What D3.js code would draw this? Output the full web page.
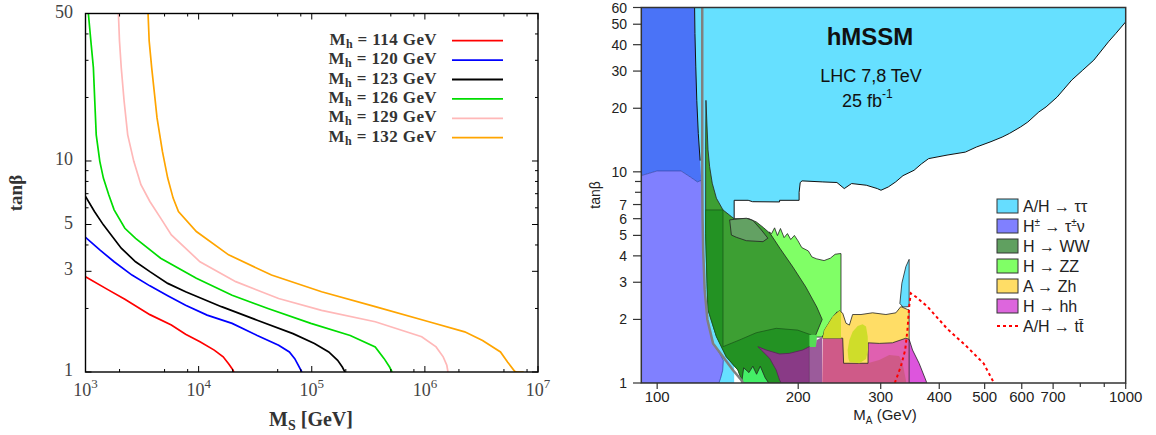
<!DOCTYPE html>
<html>
<head>
<meta charset="utf-8">
<title>Mh contours and hMSSM exclusion</title>
<style>
body { margin: 0; background: #fff; }
.serif { font-family: "Liberation Serif", "Times New Roman", serif; }
.sans { font-family: "Liberation Sans", Arial, sans-serif; }
</style>
</head>
<body>
<svg width="1156" height="435"></svg>
<script src="https://d3js.org/d3.v7.min.js"></script>
<script>

// ---------- left panel: tan(beta) vs M_S contours ----------
var msMajor = [1e3, 1e4, 1e5, 1e6, 1e7];
var msExp = ["3", "4", "5", "6", "7"];
var msMinor = [2e3, 5e3, 8e3, 2e4, 5e4, 8e4, 2e5, 5e5, 8e5, 2e6, 5e6, 8e6];
var tbLeftLabels = [1, 3, 5, 10, 50];
var tbLeftMinor = [2, 4, 6, 7, 8, 9, 20, 30, 40];

var mhLabels = ["114", "120", "123", "126", "129", "132"];
var mhColors = ["#ff0000", "#0000ff", "#000000", "#00dd00", "#ffb8b8", "#ffa500"];

var mh114 = [[1000,2.83],[1548,2.47],[2228,2.21],[3707,1.87],[5741,1.67],[7670,1.51],[10280,1.39],[13740,1.27],[16480,1.18],[18400,1.095],[19770,1.037],[20500,1.0]];
var mh120 = [[1000,4.35],[1338,3.79],[1791,3.33],[2576,2.88],[3707,2.56],[5333,2.30],[7670,2.07],[11880,1.86],[19770,1.70],[32960,1.49],[50970,1.34],[63400,1.245],[70750,1.157],[81800,1.0]];
var mh123 = [[1000,6.79],[1200,5.76],[1439,4.98],[2070,3.86],[2771,3.33],[3707,2.99],[5333,2.63],[7670,2.40],[15910,2.04],[32960,1.76],[68270,1.52],[105600,1.364],[141300,1.245],[169400,1.136],[186300,1.056],[196400,1.0]];
var mh126 = [[1060,50],[1115,37.1],[1174,27.7],[1208,19.2],[1244,13.3],[1338,9.96],[1439,8.3],[1605,6.92],[1791,5.87],[2228,4.80],[2771,4.30],[4617,3.46],[9550,2.78],[19770,2.31],[41000,2.0],[98200,1.70],[218800,1.49],[363900,1.315],[436500,1.157],[487400,1.056],[512600,1.0]];
var mh129 = [[1954,50],[1997,37.1],[2070,27.7],[2195,19.2],[2361,13.3],[2673,9.96],[3090,7.72],[3707,6.43],[4617,5.36],[5741,4.46],[10280,3.33],[21290,2.68],[50970,2.23],[122200,1.96],[363900,1.73],[937700,1.47],[1256000,1.315],[1452000,1.18],[1563000,1.076],[1600000,1.0]];
var mh132 = [[3573,50],[3654,37.1],[3846,27.7],[4077,20.7],[4289,16],[4785,11.1],[5329,8.3],[5952,6.67],[6634,5.76],[9550,4.63],[18400,3.59],[44060,2.88],[122200,2.40],[363900,2.04],[1086000,1.73],[2250000,1.55],[3236000,1.41],[4660000,1.245],[5380000,1.116],[6220000,1.007],[6460000,1.0],[7470000,1.0]];
var mhCurves = [mh114, mh120, mh123, mh126, mh129, mh132];

// ---------- right panel: hMSSM exclusion regions (M_A, tan beta) ----------
var maLabels = [100, 200, 300, 400, 500, 600, 700, 1000];
var maMinor = [800, 900];
var tbRightLabels = [1, 2, 3, 4, 5, 6, 7, 10, 20, 30, 40, 50, 60];
var tbRightMinor = [8, 9];

var regTauTau = [[120.2,60],[1000,60],[1000,51.3],[952.6,45.2],[918.9,41.3],[855,33.8],[809.6,30.3],[767.2,27.2],[714,22.6],[676.3,20.3],[652.5,19.2],[618,17.2],[596.2,16.3],[564.8,15.2],[544.7,14.6],[515.9,13.9],[480,13.1],[454.8,12.4],[415.6,12.0],[379.7,11.55],[366.4,10.9],[353.4,10.17],[334.7,9.59],[322.9,8.96],[311.4,8.48],[300.4,8.18],[295,8.33],[279.5,8.64],[260,8.8],[250.8,8.33],[241.9,8.9],[225,8.96],[203.8,9.06],[202,8.9],[200.9,8.0],[200.9,7.33],[182.5,7.33],[182.5,7.2],[159.8,7.22],[156.4,7.33],[146,7.33],[146,6.0],[146,1],[120.2,1]];
var regTauSpike = [[329.6,2.38],[332.9,2.97],[339.5,3.56],[345,3.85],[345,2.3],[334.7,2.29]];
var regHpmDark = [[92.5,60],[120.2,60],[120.4,45.2],[120.9,31.4],[121.5,21.8],[122.4,15.2],[123.5,11.3],[124.2,9.12],[121.9,8.96],[117.6,9.46],[112.4,10.1],[100,10.1],[92.5,9.6]];
var regHpm = [[92.5,1],[92.5,9.6],[100,10.1],[112.4,10.1],[117.6,9.46],[121.9,8.96],[124.2,9.12],[124.8,7.5],[125,6],[125.4,4.2],[126.3,2.76],[128,2.0],[131.6,1.54],[136,1.38],[138.4,1.28],[138,1.15],[136.5,1.05],[135.4,1]];
var regZZ = [[173.3,5.19],[175.5,5.1],[178.1,5.43],[180.6,4.99],[183.3,5.39],[186.6,4.88],[189.7,5.1],[192.8,4.78],[196.3,5.0],[199.8,4.71],[203.5,4.38],[210.2,4.22],[214,3.95],[219.1,3.87],[227.1,3.8],[234.2,3.9],[239.8,4.07],[245.5,4.1],[246.8,4.1],[246.8,2.13],[241.9,2.17],[237.6,2.05],[225,1.65],[211.3,1.65],[200,2.5]];
var regGreenMain = [[127.1,21.8],[127.8,16.3],[128.4,12.7],[129.4,10.6],[131.1,8.83],[133.8,7.5],[138.2,6.6],[144,6.14],[146,6.0],[157,6.0],[162.8,5.79],[168.7,5.44],[174.3,5.1],[183,4.33],[194.9,3.54],[207.6,2.85],[219.1,2.29],[225,2.0],[217.1,1.65],[211.3,1.48],[211.3,1],[152.4,1],[148.7,1.152],[140.5,1.33],[133.8,1.66],[128.4,2.22],[127.8,2.96],[126.9,5.1],[126.9,12.7]];
var regGreenDark = [[126.9,6.6],[138.2,6.6],[138.2,1.486],[150,1.6],[162.8,1.73],[179.5,1.815],[199.5,1.78],[213.1,1.69],[213.1,1.48],[211.3,1],[152.4,1],[148.7,1.152],[140.5,1.33],[133.8,1.66],[128.4,2.22],[127.8,2.96],[126.9,5.1]];
var regWW = [[142.8,5.92],[146.4,5.96],[155,6.03],[160.1,5.88],[166.8,5.31],[172.3,4.85],[168.2,4.67],[155,4.72],[147.5,4.9],[144,5.02]];
var regGreenBits = [[151.4,1],[153,1.18],[157,1.12],[160,1.2],[163,1.1],[166,1.2],[170,1.06],[173,1]];
var regGreenSmall = [[211.3,1.69],[219.1,1.69],[219.1,1.48],[211.3,1.48]];
var regPurple = [[164.1,1.486],[170.9,1.433],[182.5,1.372],[191.6,1.382],[204.5,1.433],[211.3,1.486],[211.3,1],[184,1],[182.5,1.033],[179.5,1.152],[173.8,1.309],[166.8,1.433]];
var regMauve = [[211.3,1.48],[218,1.48],[219.1,1.6],[225,1.65],[225,1],[211.3,1]];
var regPink = [[225.6,1.63],[248.9,1.63],[282,1.55],[297.8,1.54],[317.8,1.55],[339.5,1.63],[345,1.61],[345,1],[225,1]];
var regPinkLight = [[281.4,1.55],[297.8,1.54],[317.8,1.55],[339.5,1.63],[345,1.61],[345,1.0],[340,1],[339.5,1.033],[334,1.24],[328.5,1.342],[312.8,1.357],[297.8,1.285],[281.4,1.24]];
var regMagenta = [[345,1.61],[350.8,1.433],[362.3,1.24],[374.3,1.033],[376.3,1],[345,1]];
var regZh = [[227.5,1.78],[237,2.06],[244.8,2.2],[248.9,2.14],[252.9,1.92],[257.2,1.88],[261.3,2.11],[272.3,2.11],[288.2,2.15],[307.8,2.11],[323.2,2.15],[331.2,2.3],[342.1,2.23],[345,2.22],[345,1.61],[339.5,1.63],[317.8,1.55],[297.8,1.54],[282,1.55],[281.9,1.24],[250,1.24],[248.9,1.63],[225.6,1.63]];
var regZhZZ = [[225.6,1.63],[227.5,1.78],[237,2.06],[244.8,2.2],[246.8,2.17],[246.8,1.63]];
var regZhBlob = [[255,1.433],[257.2,1.6],[261.3,1.75],[267.9,1.86],[274.5,1.9],[279.1,1.85],[281.4,1.66],[281.9,1.433],[279.1,1.3],[270.1,1.24],[257.2,1.26],[255.9,1.309]];
var lineTT = [[321.5,1],[323.2,1.033],[331.1,1.195],[338.3,1.43],[342.1,1.78],[345,2.3],[347.8,2.66],[356.4,2.56],[377.5,2.3],[415.6,1.81],[454.8,1.51],[497.8,1.235],[523.4,1]];
var lineTheory = [[124.8,60],[124.8,10],[125,6],[125.4,4.2],[126.3,2.76],[128,2.0],[131.6,1.54],[138.2,1.33],[145.2,1.15],[151.2,1.033],[152.5,1]];
var edgeTauTau = regTauTau.slice(2, 42);
var edgeHpmDark = regHpmDark.slice(1, 7);

var legendColors = ["#66ddff", "#8080ff", "#60a060", "#80ff66", "#ffdd66", "#dd66dd", null];

var svg = d3.select("svg");

// ================= LEFT =================
var xL = d3.scaleLog().domain([1e3, 1e7]).range([85.5, 538]);
var yL = d3.scaleLog().domain([1, 50]).range([372, 13.5]);

svg.append("clipPath").attr("id", "clipL").append("rect")
  .attr("x", 85.5).attr("y", 13.5).attr("width", 452.5).attr("height", 358.5);

var gL = svg.append("g");
var lineL = d3.line().x(function(d) { return xL(d[0]); }).y(function(d) { return yL(d[1]); });

mhCurves.forEach(function(c, i) {
  gL.append("path")
    .attr("clip-path", "url(#clipL)")
    .attr("d", lineL(c))
    .attr("fill", "none")
    .attr("stroke", mhColors[i])
    .attr("stroke-width", 1.7);
});

gL.append("rect").attr("x", 85.5).attr("y", 13.5).attr("width", 452.5).attr("height", 358.5)
  .attr("fill", "none").attr("stroke", "#000").attr("stroke-width", 1.4);

function tickX(v, len) {
  gL.append("line").attr("x1", xL(v)).attr("x2", xL(v)).attr("y1", 372).attr("y2", 372 - len).attr("stroke", "#000");
  gL.append("line").attr("x1", xL(v)).attr("x2", xL(v)).attr("y1", 13.5).attr("y2", 13.5 + len).attr("stroke", "#000");
}
function tickY(v, len) {
  gL.append("line").attr("y1", yL(v)).attr("y2", yL(v)).attr("x1", 85.5).attr("x2", 85.5 + len).attr("stroke", "#000");
  gL.append("line").attr("y1", yL(v)).attr("y2", yL(v)).attr("x1", 538).attr("x2", 538 - len).attr("stroke", "#000");
}
msMajor.forEach(function(v) { tickX(v, 6); });
msMinor.forEach(function(v) { tickX(v, 3); });
tbLeftLabels.forEach(function(v) { tickY(v, 6); });
tbLeftMinor.forEach(function(v) { tickY(v, 3); });

msMajor.forEach(function(v, i) {
  var t = gL.append("text").attr("class", "serif")
    .attr("x", xL(v)).attr("y", 396).attr("text-anchor", "middle")
    .attr("font-size", 18).attr("fill", "#444");
  t.append("tspan").text("10");
  t.append("tspan").attr("dy", -8).attr("font-size", 13).text(msExp[i]);
});

tbLeftLabels.forEach(function(v) {
  gL.append("text").attr("class", "serif")
    .attr("x", 73).attr("y", yL(v) + 4).attr("text-anchor", "end")
    .attr("font-size", 18).attr("fill", "#444").text(v);
});

var xlab = gL.append("text").attr("class", "serif").attr("font-weight", "bold")
  .attr("x", 311).attr("y", 426).attr("text-anchor", "middle").attr("font-size", 20).attr("fill", "#333");
xlab.append("tspan").text("M");
xlab.append("tspan").attr("dy", 4).attr("font-size", 14).text("S");
xlab.append("tspan").attr("dy", -4).text(" [GeV]");

gL.append("text").attr("class", "serif").attr("font-weight", "bold")
  .attr("transform", "translate(22,193) rotate(-90)")
  .attr("text-anchor", "middle").attr("font-size", 19).attr("fill", "#333")
  .text("tan\u03b2");

mhLabels.forEach(function(m, i) {
  var y = 40.7 + i * 19.4;
  var t = gL.append("text").attr("class", "serif").attr("font-weight", "bold")
    .attr("x", 437).attr("y", y + 4).attr("text-anchor", "end")
    .attr("font-size", 17).attr("letter-spacing", 0.4).attr("fill", "#333");
  t.append("tspan").text("M");
  t.append("tspan").attr("dy", 3).attr("font-size", 12).text("h");
  t.append("tspan").attr("dy", -3).text(" = " + m + " GeV");
  gL.append("line").attr("x1", 452).attr("x2", 503).attr("y1", y).attr("y2", y)
    .attr("stroke", mhColors[i]).attr("stroke-width", 1.8);
});

// ================= RIGHT =================
var xR = d3.scaleLog().domain([92.5, 1000]).range([641.3, 1125.7]);
var yR = d3.scaleLog().domain([1, 60]).range([383, 7.5]);

svg.append("clipPath").attr("id", "clipR").append("rect")
  .attr("x", 641.3).attr("y", 7.5).attr("width", 484.4).attr("height", 375.5);

var gR = svg.append("g");
var plot = gR.append("g").attr("clip-path", "url(#clipR)");
var lineR = d3.line().x(function(d) { return xR(d[0]); }).y(function(d) { return yR(d[1]); });

function region(pts, fill, stroke) {
  plot.append("path").attr("d", lineR(pts) + "Z")
    .attr("fill", fill)
    .attr("stroke", stroke || "none")
    .attr("stroke-width", 0.8)
    .attr("stroke-linejoin", "round");
}

region(regTauTau, "#66e0ff");
region(regTauSpike, "#66e0ff", "#222");
region(regHpmDark, "#4a73f7");
region(regHpm, "#8080ff", "#3a4ab0");
region(regZZ, "#80ff66", "#222");
region(regGreenMain, "#3d9f33", "#222");
region(regGreenDark, "#239223", "#1a5a1a");
region(regWW, "#63a163", "#222");
region(regGreenBits, "#44ee66", "#222");
region(regGreenSmall, "#55dd55");
region(regPurple, "#893a86", "#5a1f5a");
region(regMauve, "#9b5b9b");
region(regPink, "#cf5a88");
region(regPinkLight, "#e060b0");
region(regMagenta, "#dd55dd", "#222");
region(regZh, "#ffdd66", "#222");
region(regZhZZ, "#cfdd2a");
region(regZhBlob, "#cfdd2a");

plot.append("path").attr("d", lineR(edgeTauTau)).attr("fill", "none").attr("stroke", "#111").attr("stroke-width", 1);
plot.append("path").attr("d", lineR(edgeHpmDark)).attr("fill", "none").attr("stroke", "#111").attr("stroke-width", 1);
plot.append("path").attr("d", lineR(lineTheory)).attr("fill", "none").attr("stroke", "#808080").attr("stroke-width", 2.5);
plot.append("path").attr("d", lineR(lineTT)).attr("fill", "none").attr("stroke", "#ff0000")
  .attr("stroke-width", 2).attr("stroke-dasharray", "3,3");

gR.append("rect").attr("x", 641.3).attr("y", 7.5).attr("width", 484.4).attr("height", 375.5)
  .attr("fill", "none").attr("stroke", "#333").attr("stroke-width", 1.5);

tbRightLabels.forEach(function(v) {
  gR.append("line").attr("x1", 633).attr("x2", 641.3).attr("y1", yR(v)).attr("y2", yR(v)).attr("stroke", "#333").attr("stroke-width", 1.2);
  gR.append("text").attr("class", "sans").attr("x", 627).attr("y", yR(v) + 5)
    .attr("text-anchor", "end").attr("font-size", 14).attr("fill", "#222").text(v);
});
tbRightMinor.forEach(function(v) {
  gR.append("line").attr("x1", 635).attr("x2", 641.3).attr("y1", yR(v)).attr("y2", yR(v)).attr("stroke", "#333").attr("stroke-width", 1.2);
});
maLabels.forEach(function(v) {
  gR.append("line").attr("x1", xR(v)).attr("x2", xR(v)).attr("y1", 383).attr("y2", 389).attr("stroke", "#333").attr("stroke-width", 1.2);
  gR.append("text").attr("class", "sans").attr("x", xR(v)).attr("y", 401.5)
    .attr("text-anchor", "middle").attr("font-size", 15).attr("fill", "#222").text(v);
});
maMinor.forEach(function(v) {
  gR.append("line").attr("x1", xR(v)).attr("x2", xR(v)).attr("y1", 383).attr("y2", 387).attr("stroke", "#333").attr("stroke-width", 1.2);
});

var xr = gR.append("text").attr("class", "sans").attr("x", 885).attr("y", 420)
  .attr("text-anchor", "middle").attr("font-size", 15).attr("fill", "#222");
xr.append("tspan").text("M");
xr.append("tspan").attr("dy", 4).attr("font-size", 10).text("A");
xr.append("tspan").attr("dy", -4).text(" (GeV)");

gR.append("text").attr("class", "sans")
  .attr("transform", "translate(600,195) rotate(-90)")
  .attr("text-anchor", "middle").attr("font-size", 14).attr("fill", "#222").text("tan\u03b2");

gR.append("text").attr("class", "sans").attr("font-weight", "bold")
  .attr("x", 870).attr("y", 45).attr("text-anchor", "middle").attr("font-size", 24).attr("fill", "#111").text("hMSSM");
gR.append("text").attr("class", "sans")
  .attr("x", 871).attr("y", 82).attr("text-anchor", "middle").attr("font-size", 18).attr("fill", "#111").text("LHC 7,8 TeV");
var lum = gR.append("text").attr("class", "sans")
  .attr("x", 842).attr("y", 107).attr("font-size", 18).attr("fill", "#111");
lum.append("tspan").text("25 fb");
lum.append("tspan").attr("dy", -9).attr("font-size", 12).text("-1");

// legend: each entry is a list of [text, superscript?] pieces
var legendParts = [
  [["A/H \u2192 \u03c4\u03c4", 0]],
  [["H", 0], ["\u00b1", 1], [" \u2192 \u03c4", 0], ["\u00b1", 1], ["\u03bd", 0]],
  [["H \u2192 WW", 0]],
  [["H \u2192 ZZ", 0]],
  [["A \u2192 Zh", 0]],
  [["H \u2192 hh", 0]],
  [["A/H \u2192 tt\u0304", 0]]
];
legendParts.forEach(function(parts, i) {
  var y = 206 + i * 20;
  if (legendColors[i]) {
    gR.append("rect").attr("x", 997).attr("y", y - 7).attr("width", 21).attr("height", 14)
      .attr("fill", legendColors[i]).attr("stroke", "#333").attr("stroke-width", 1);
  } else {
    gR.append("line").attr("x1", 997).attr("x2", 1018).attr("y1", y).attr("y2", y)
      .attr("stroke", "#ff0000").attr("stroke-width", 2).attr("stroke-dasharray", "3,3");
  }
  var t = gR.append("text").attr("class", "sans").attr("x", 1023).attr("y", y + 5.5)
    .attr("font-size", 16).attr("fill", "#222");
  var up = 0;
  parts.forEach(function(p) {
    var dy = p[1] ? -6 - up : -up;
    t.append("tspan").attr("dy", dy).attr("font-size", p[1] ? 10 : 16).text(p[0]);
    up = p[1] ? -6 : 0;
  });
});

</script>
</body>
</html>
